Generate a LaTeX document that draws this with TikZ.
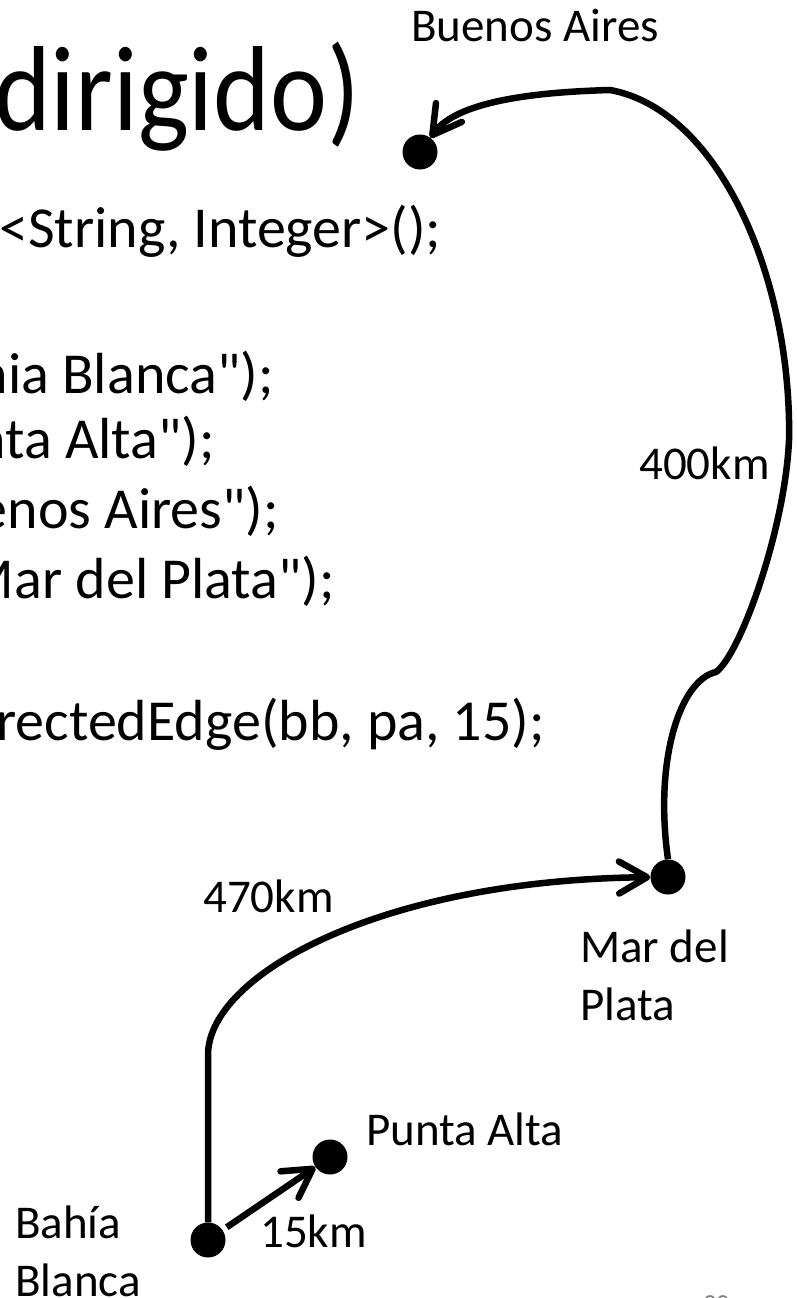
\documentclass[tikz,border=0pt]{standalone}
\usepackage{fontspec}
\usepackage{graphicx}
\setmainfont{Carlito}[Ligatures=TeXOff]
\usetikzlibrary{arrows.meta}
\begin{document}
\begin{tikzpicture}[x=1pt, y=-1pt,
    city/.style={circle, fill=black, inner sep=0pt, minimum size=35pt},
    road/.style={line width=6.5pt, ->},
    lbl/.style={inner sep=0pt, font=\fontsize{47}{58}\selectfont},
    code/.style={inner sep=0pt, anchor=base east, font=\fontsize{58}{70}\selectfont},
    >={Straight Barb[length=28pt, width=32pt, round]}]
    % page
    \useasboundingbox (0, 0) rectangle (797, 1298);
    % title
    \node [inner sep=0pt, anchor=base west, font=\fontsize{108}{120}\selectfont] (title) at (-6, 130) {\scalebox{1}[1.12]{dirigido)}};
    % code lines
    \node [code, anchor=base west] (c1) at (-1, 247) {<String, Integer>();};
    \node [code] (c2) at (274, 393) {hia Blanca");};
    \node [code] (c3) at (215, 458) {nta Alta");};
    \node [code] (c4) at (279, 528) {enos Aires");};
    \node [code] (c5) at (335, 598) {Mar del Plata");};
    \node [code] (c6) at (545, 740) {rectedEdge(bb, pa, 15);};
    % cities
    \node [city] (ba) at (420, 152) {};
    \node [city] (mdp) at (668, 877) {};
    \node [city] (pa) at (330, 1157) {};
    \node [city] (bb) at (208, 1240) {};
    % city names
    \node [lbl, anchor=base west] (baname) at (411, 42) {Buenos Aires};
    \node [lbl, anchor=north west, align=left] (mdpname) at (580, 930) {Mar del\\Plata};
    \node [lbl, anchor=base west] (paname) at (366, 1145) {Punta Alta};
    \node [lbl, anchor=north west, align=left] (bbname) at (15, 1206) {Bahía\\Blanca};
    % roads
    \draw [road, shorten <=5pt] (bb) -- (pa);
    \draw [road] (bb.north) -- (208, 1055) .. controls (208, 975) and (380, 880) .. (mdp);
    \draw [road] (mdp.north) .. controls (654, 760) and (680, 680) .. (716, 672)
        .. controls (740, 655) and (785, 530) .. (789, 440)
        .. controls (792, 280) and (720, 110) .. (610, 90)
        .. controls (540, 92) and (458, 100) .. (ba);
    % distances
    \node [lbl, anchor=base west] (d15) at (260, 1247) {15km};
    \node [lbl, anchor=base west] (d470) at (203, 912) {470km};
    \node [lbl, anchor=base west] (d400) at (639, 479) {400km};
    % slide number
    \node [inner sep=0pt, anchor=north west, text=gray, font=\fontsize{26}{30}\selectfont] (num) at (703, 1295) {30};
\end{tikzpicture}
\end{document}
